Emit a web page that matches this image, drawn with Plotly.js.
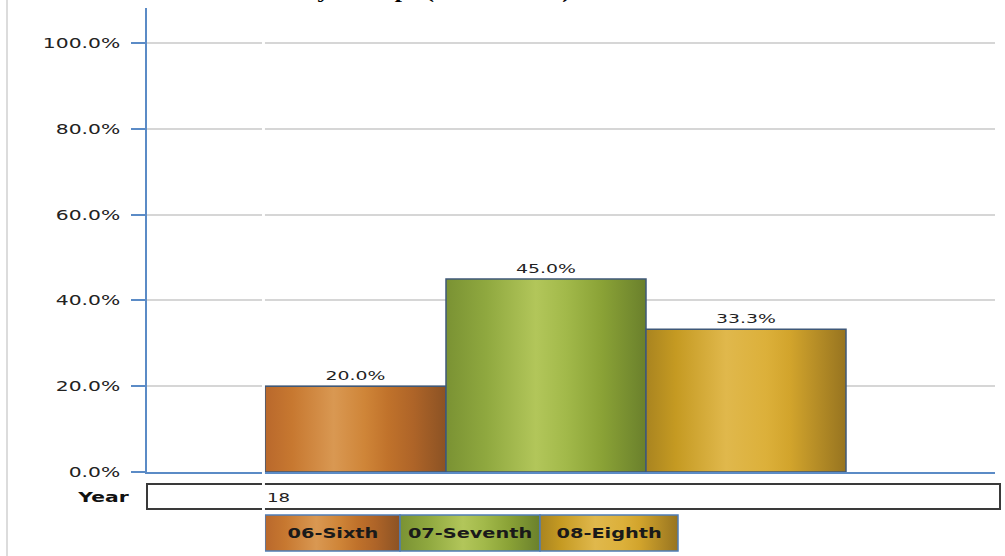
<!DOCTYPE html>
<html>
<head>
<meta charset="utf-8">
<script src="https://cdn.plot.ly/plotly-3.0.1.min.js"></script>
<style>
  html, body { margin: 0; padding: 0; background: #ffffff; }
  #chart { width: 1005px; height: 556px; }
</style>
</head>
<body>
<div id="chart"></div>
<script>
// Share of students by grade group
const grades = ["06-Sixth", "07-Seventh", "08-Eighth"];
const pctValues = [20.0, 45.0, 33.3];
const yTicks = [0, 20, 40, 60, 80, 100];
const yTickText = ["0.0%", "20.0%", "40.0%", "60.0%", "80.0%", "100.0%"];
const yearLabel = "18";
const rowLabel = "Year";
const titleText = "Student Distribution by Groups (2017 – 2018)";

// Metallic gradient stops for each grade colour
const gradientStops = [
  [[0, "#b9682c"], [0.15, "#c77830"], [0.38, "#d99852"], [0.55, "#cf8538"], [0.68, "#c0722b"], [0.82, "#ae6428"], [1, "#8b5224"]],
  [[0, "#7a9233"], [0.2, "#8fa83f"], [0.45, "#b2c65a"], [0.6, "#a2b94a"], [0.78, "#8aa236"], [1, "#6a802c"]],
  [[0, "#a98420"], [0.15, "#c59a22"], [0.4, "#e0b84c"], [0.6, "#dcb03a"], [0.72, "#d2a42c"], [1, "#977420"]]
];
const baseColors = ["#c97a35", "#9cb448", "#d4a830"];

const axisBlue = "#5b8bc6";
const font = "DejaVu Sans, Verdana, sans-serif";

const bars = {
  type: "bar",
  x: grades,
  y: pctValues,
  width: [0.905, 1, 1],
  offset: [-0.405, -0.5, -0.5],
  marker: { color: baseColors, line: { color: "#3f5878", width: 1.5 } },
  texttemplate: "%{y:.1f}%",
  textposition: "outside",
  textfont: { family: font, size: 13, color: "#222222" },
  cliponaxis: false,
  hoverinfo: "none"
};

// paper-coordinate helpers for the area under the plot
const legendEdges = [0.13915, 0.29835, 0.46344, 0.62618];
const shapes = [];
const annotations = [];

// light frame line on the far left
shapes.push({ type: "line", xref: "paper", yref: "paper", x0: -0.1651, x1: -0.1651, y0: -0.2, y1: 1.05,
  line: { color: "#dcdcdc", width: 2 } });
// year row box
shapes.push({ type: "rect", xref: "paper", yref: "paper", x0: 0, x1: 1.0059, y0: -0.0797, y1: -0.0259,
  fillcolor: "#ffffff", line: { color: "#3a3a3a", width: 2 } });
// legend swatch boxes
const legendShapeStart = shapes.length;
grades.forEach((g, i) => {
  shapes.push({ type: "rect", xref: "paper", yref: "paper",
    x0: legendEdges[i], x1: legendEdges[i + 1], y0: -0.1703, y1: -0.0927,
    fillcolor: baseColors[i], line: { color: "#4f7cb5", width: 1.5 } });
  annotations.push({ xref: "paper", yref: "paper", x: (legendEdges[i] + legendEdges[i + 1]) / 2, y: -0.1315,
    text: g, showarrow: false, xanchor: "center", yanchor: "middle",
    font: { family: font, size: 14, color: "#1a1a1a", weight: "bold" } });
});
// thin white seam
shapes.push({ type: "rect", xref: "paper", yref: "paper", x0: 0.1356, x1: 0.1391, y0: -0.2, y1: 1.05,
  fillcolor: "#ffffff", line: { width: 0 } });

annotations.push({ xref: "paper", yref: "paper", x: -0.0189, y: -0.0539, text: rowLabel, showarrow: false,
  xanchor: "right", yanchor: "middle", font: { family: font, size: 14, color: "#111111", weight: "bold" } });
annotations.push({ xref: "paper", yref: "paper", x: 0.1392, y: -0.0539, text: yearLabel, showarrow: false,
  xanchor: "left", yanchor: "middle", font: { family: font, size: 13, color: "#222222" } });
// heading sits mostly above the top edge
annotations.push({ xref: "paper", yref: "paper", x: -0.092, y: 1.0172, text: titleText, showarrow: false,
  xanchor: "left", yanchor: "bottom", yshift: -5,
  font: { family: "Liberation Serif, Times New Roman, serif", size: 19, color: "#000000", weight: "bold" } });

const layout = {
  width: 1005,
  height: 556,
  margin: { l: 147, r: 10, t: 8, b: 84 },
  paper_bgcolor: "#ffffff",
  plot_bgcolor: "#ffffff",
  showlegend: false,
  bargap: 0,
  xaxis: {
    type: "category",
    categoryorder: "array",
    categoryarray: grades,
    range: [-0.995, 3.245],
    showticklabels: false,
    ticks: "",
    showgrid: false,
    zeroline: false,
    showline: true,
    linecolor: axisBlue,
    linewidth: 2
  },
  yaxis: {
    range: [0, 108.2],
    tickmode: "array",
    tickvals: yTicks,
    ticktext: yTickText,
    ticks: "outside",
    ticklen: 14,
    tickwidth: 2,
    tickcolor: axisBlue,
    ticklabelstandoff: 8,
    tickfont: { family: font, size: 14, color: "#222222" },
    showline: true,
    linecolor: axisBlue,
    linewidth: 2,
    gridcolor: "#d6d6d6",
    gridwidth: 2,
    zeroline: false
  },
  shapes: shapes,
  annotations: annotations
};

// widen glyphs horizontally around a chosen origin (left / center / right)
function stretchText(el, sx, mode) {
  const bb = el.getBBox();
  const ox = mode === "left" ? bb.x : mode === "right" ? bb.x + bb.width : bb.x + bb.width / 2;
  const t = el.getAttribute("transform") || "";
  el.setAttribute("transform", t + " translate(" + ox + ",0) scale(" + sx + ",1) translate(" + (-ox) + ",0)");
}

function addGradients(gd) {
  const svg = gd.querySelector(".main-svg");
  const ns = "http://www.w3.org/2000/svg";
  const defs = document.createElementNS(ns, "defs");
  gradientStops.forEach((stops, i) => {
    const lg = document.createElementNS(ns, "linearGradient");
    lg.setAttribute("id", "metal" + i);
    lg.setAttribute("x1", "0"); lg.setAttribute("y1", "0");
    lg.setAttribute("x2", "1"); lg.setAttribute("y2", "0");
    stops.forEach(s => {
      const st = document.createElementNS(ns, "stop");
      st.setAttribute("offset", s[0]);
      st.setAttribute("stop-color", s[1]);
      lg.appendChild(st);
    });
    defs.appendChild(lg);
  });
  svg.insertBefore(defs, svg.firstChild);

  gd.querySelectorAll(".trace.bars .point path").forEach((p, i) => {
    p.style.fill = "url(#metal" + i + ")";
  });
  grades.forEach((g, i) => {
    const p = gd.querySelector('.shapelayer path[data-index="' + (legendShapeStart + i) + '"]');
    if (p) p.style.fill = "url(#metal" + i + ")";
  });
}

const gd = document.getElementById("chart");
Plotly.newPlot(gd, [bars], layout, { staticPlot: true, displayModeBar: false }).then(() => {
  addGradients(gd);
  gd.querySelectorAll(".ytick text").forEach(t => stretchText(t, 1.45, "right"));
  gd.querySelectorAll(".bartext").forEach(t => stretchText(t, 1.45, "center"));
  gd.querySelectorAll(".annotation-text").forEach(t => {
    const txt = t.textContent;
    if (txt === rowLabel) stretchText(t, 1.45, "right");
    else if (txt === yearLabel) stretchText(t, 1.4, "left");
    else if (txt === titleText) stretchText(t, 1.35, "left");
    else stretchText(t, 1.38, "center");
  });
});
</script>
</body>
</html>
